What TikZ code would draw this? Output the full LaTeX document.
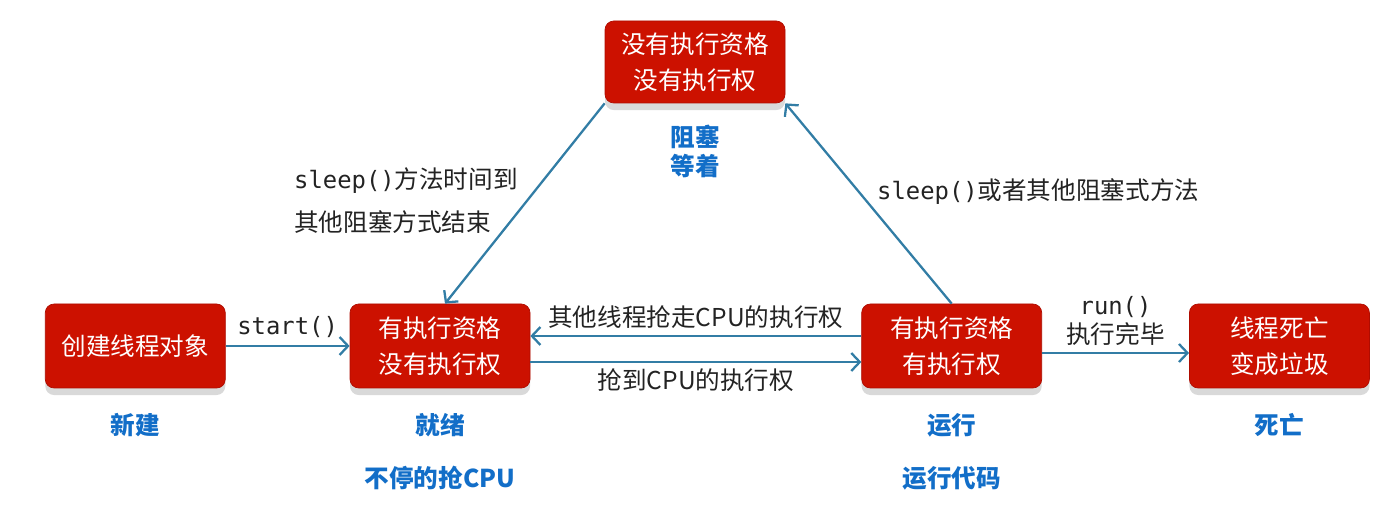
\documentclass[tikz,border=0pt]{standalone}
\usepackage{fontspec}
\setmainfont{Noto Sans CJK SC}[BoldFont={Noto Sans CJK SC Black}]
\setmonofont{DejaVu Sans Mono}[Scale=0.97]
\usepackage{tikz}
\usetikzlibrary{
  positioning,
  arrows.meta,
  shadows
}
\definecolor{statebg}{RGB}{204,17,0}
\definecolor{stateborder}{RGB}{175,12,0}
\definecolor{tagblue}{RGB}{18,110,200}
\definecolor{arrowcolor}{RGB}{50,125,165}
\definecolor{textgray}{RGB}{35,35,35}
\tikzset{
  statebox/.style={
    draw=stateborder, fill=statebg, rounded corners=5pt,
    minimum width=3.6cm, minimum height=1.68cm,
    text=white, font=\fontsize{14}{20.5}\selectfont, align=center,
    drop shadow={shadow xshift=0pt, shadow yshift=-4pt, fill=black!25, opacity=0.6}
  },
  tagtext/.style={
    text=tagblue, font=\fontsize{14}{16.5}\selectfont\bfseries,
    align=center, inner sep=0pt
  },
  edgetext/.style={
    text=textgray, font=\fontsize{14}{17}\selectfont, align=left
  },
  flowarrow/.style={
    -{Straight Barb[length=1.7mm,width=3.6mm]}, line width=1.3pt, draw=arrowcolor
  }
}
\begin{document}
\begin{tikzpicture}[
    node distance=0.5cm and 2.48cm
  ]
    \useasboundingbox (0,0) rectangle (27.7,-10.34);

    \node[statebox] (ready) at (8.8,-6.92) {有执行资格\\没有执行权};
    \node[statebox, left=2.48cm of ready] (new) {创建线程对象};
    \node[statebox, right=6.62cm of ready] (running) {有执行资格\\有执行权};
    \node[statebox, right=2.94cm of running] (dead) {线程死亡\\变成垃圾};
    \node[statebox, minimum height=1.64cm] (blocked) at (13.9,-1.24) {没有执行资格\\没有执行权};

    \node[tagtext, below=0.49cm of new] (newtag) {新建};
    \node[tagtext, below=0.49cm of ready] (readytag) {就绪};
    \node[tagtext, below=0.49cm of running] (runtag) {运行};
    \node[tagtext, below=0.49cm of dead] (deadtag) {死亡};
    \node[tagtext, below=0.57cm of readytag] (readynote) {不停的抢CPU};
    \node[tagtext, below=0.57cm of runtag] (runnote) {运行代码};
    \node[tagtext, below=0.42cm of blocked] (blocktag) {阻塞\\等着};

    \draw[flowarrow] (new) -- node[above=1pt, edgetext] {\texttt{start()}} (ready);
    \draw[flowarrow] ([yshift=0.2cm]running.west) -- node[above, edgetext] {其他线程抢走CPU的执行权} ([yshift=0.2cm]ready.east);
    \draw[flowarrow] ([yshift=-0.32cm]ready.east) -- node[below, edgetext] {抢到CPU的执行权} ([yshift=-0.32cm]running.west);
    \draw[flowarrow] ([yshift=-0.14cm]running.east) -- node[above, edgetext, align=center] {\texttt{run()}\\执行完毕} ([yshift=-0.14cm]dead.west);
    \draw[flowarrow] (blocked.south west) -- ([xshift=0.1cm]ready.north);
    \draw[flowarrow] (running.north) -- (blocked.south east);

    \node[edgetext, anchor=west] (wakeup) at (5.76,-4.02) {\texttt{sleep()}方法时间到\\[0.26cm]其他阻塞方式结束};
    \node[edgetext, anchor=west] (sleepcall) at (17.42,-3.84) {\texttt{sleep()}或者其他阻塞式方法};

  \end{tikzpicture}
\end{document}
